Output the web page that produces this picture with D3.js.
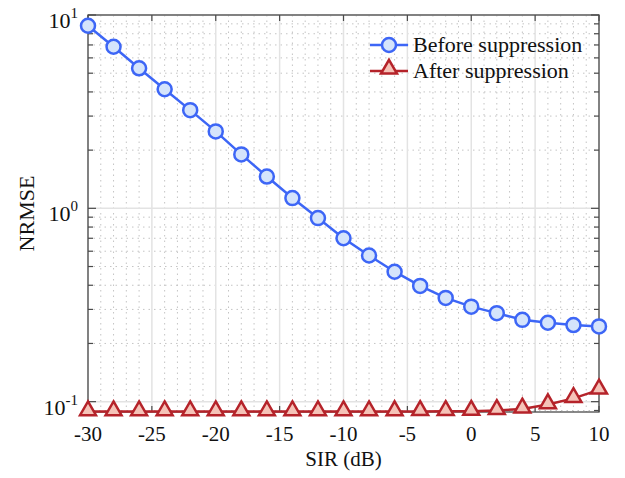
<!DOCTYPE html>
<html>
<head>
<meta charset="utf-8">
<script src="https://cdn.jsdelivr.net/npm/d3@7"></script>
<style>
  body { margin: 0; background: #fff; }
  text { font-family: "Liberation Serif", "Times New Roman", serif; fill: #111; }
</style>
</head>
<body>
<svg id="chart" width="625" height="478"></svg>
<script>
const sir = [-30, -28, -26, -24, -22, -20, -18, -16, -14, -12, -10, -8, -6, -4, -2, 0, 2, 4, 6, 8, 10];
const before = [8.8, 6.85, 5.3, 4.13, 3.22, 2.5, 1.9, 1.46, 1.13, 0.89, 0.70, 0.57, 0.47, 0.397, 0.344, 0.31, 0.287, 0.265, 0.256, 0.249, 0.245];
const after = [0.0888, 0.0888, 0.0888, 0.0888, 0.0888, 0.0888, 0.0888, 0.0888, 0.0888, 0.0888, 0.0888, 0.0888, 0.0889, 0.089, 0.0891, 0.0893, 0.0901, 0.0917, 0.0966, 0.104, 0.115];
const xTicks = [-30, -25, -20, -15, -10, -5, 0, 5, 10];
const yDecades = [0.1, 1, 10];
const yExps = [-1, 0, 1];
const seriesNames = ["Before suppression", "After suppression"];

const svg = d3.select("#chart");
const pLeft = 88, pRight = 599, pTop = 15, pBottom = 412;

const x = d3.scaleLinear().domain([-30, 10]).range([pLeft, pRight]);
const y = d3.scaleLog().domain([0.0884, 10]).range([pBottom, pTop]);

// minor values
const xMinor = d3.range(-30, 11, 1).filter(v => v % 5 !== 0);
const yMinor = [];
[0.01, 0.1, 1].forEach(d => { for (let k = 2; k <= 9; k++) { const v = d * k; if (v >= 0.0884 && v <= 10) yMinor.push(v); } });

const grid = svg.append("g");
grid.selectAll(".xmin").data(xMinor).join("line")
  .attr("x1", d => x(d)).attr("x2", d => x(d)).attr("y1", pTop).attr("y2", pBottom)
  .attr("stroke", "#c4c4c4").attr("stroke-width", 1).attr("stroke-dasharray", "1.5,4");
grid.selectAll(".ymin").data(yMinor).join("line")
  .attr("x1", pLeft).attr("x2", pRight).attr("y1", d => y(d)).attr("y2", d => y(d))
  .attr("stroke", "#c4c4c4").attr("stroke-width", 1).attr("stroke-dasharray", "1.5,4");
grid.selectAll(".xmaj").data(xTicks).join("line")
  .attr("x1", d => x(d)).attr("x2", d => x(d)).attr("y1", pTop).attr("y2", pBottom)
  .attr("stroke", "#e3e3e3").attr("stroke-width", 1.5);
grid.selectAll(".ymaj").data(yDecades).join("line")
  .attr("x1", pLeft).attr("x2", pRight).attr("y1", d => y(d)).attr("y2", d => y(d))
  .attr("stroke", "#e3e3e3").attr("stroke-width", 1.5);

// axes with inside ticks on all sides
const axisColor = "#4a4a4a";
const ticks = svg.append("g").attr("stroke", axisColor).attr("stroke-width", 1.2);
xTicks.forEach(v => {
  ticks.append("line").attr("x1", x(v)).attr("x2", x(v)).attr("y1", pBottom).attr("y2", pBottom - 6);
  ticks.append("line").attr("x1", x(v)).attr("x2", x(v)).attr("y1", pTop).attr("y2", pTop + 6);
});
yDecades.forEach(v => {
  ticks.append("line").attr("x1", pLeft).attr("x2", pLeft + 8).attr("y1", y(v)).attr("y2", y(v));
  ticks.append("line").attr("x1", pRight).attr("x2", pRight - 8).attr("y1", y(v)).attr("y2", y(v));
});
yMinor.forEach(v => {
  ticks.append("line").attr("x1", pLeft).attr("x2", pLeft + 5).attr("y1", y(v)).attr("y2", y(v));
  ticks.append("line").attr("x1", pRight).attr("x2", pRight - 5).attr("y1", y(v)).attr("y2", y(v));
});
svg.append("rect").attr("x", pLeft).attr("y", pTop).attr("width", pRight - pLeft).attr("height", pBottom - pTop)
  .attr("fill", "none").attr("stroke", axisColor).attr("stroke-width", 1.3);

// tick labels
svg.selectAll(".xl").data(xTicks).join("text")
  .attr("x", d => x(d)).attr("y", pBottom + 29)
  .attr("text-anchor", "middle").attr("font-size", 21).text(d => d);

const yl = svg.selectAll(".yl").data(yExps).join("text")
  .attr("x", pLeft - 10).attr("y", (d, i) => y(yDecades[i]) + 13)
  .attr("text-anchor", "end").attr("font-size", 22);
yl.append("tspan").text("10");
yl.append("tspan").attr("dy", -10).attr("font-size", 15).text(d => d);

svg.append("text").attr("x", (pLeft + pRight) / 2).attr("y", 466)
  .attr("text-anchor", "middle").attr("font-size", 21).text("SIR (dB)");
svg.append("text").attr("transform", `translate(34,${(pTop + pBottom) / 2}) rotate(-90)`)
  .attr("text-anchor", "middle").attr("font-size", 22).text("NRMSE");

// series
const blue = "#3d66f6", blueFill = "#d5e4fb";
const red = "#b5232a", redFill = "#f5c3b8";
const line = d3.line().x(d => x(d[0])).y(d => y(d[1]));
const beforeData = sir.map((s, i) => [s, before[i]]);
const afterData = sir.map((s, i) => [s, after[i]]);
const tri = d3.symbol().type(d3.symbolTriangle).size(110);

svg.append("path").datum(beforeData).attr("d", line).attr("fill", "none").attr("stroke", blue).attr("stroke-width", 2.5);
svg.selectAll(".bm").data(beforeData).join("circle")
  .attr("cx", d => x(d[0])).attr("cy", d => y(d[1])).attr("r", 7)
  .attr("fill", blueFill).attr("stroke", blue).attr("stroke-width", 2.5);

svg.append("path").datum(afterData).attr("d", line).attr("fill", "none").attr("stroke", red).attr("stroke-width", 2.5);
svg.selectAll(".am").data(afterData).join("path")
  .attr("d", tri).attr("transform", d => `translate(${x(d[0])},${y(d[1]) - 1})`)
  .attr("fill", redFill).attr("stroke", red).attr("stroke-width", 2.5);

// legend
const legend = svg.append("g");
const rows = [{ name: seriesNames[0], c: blue, f: blueFill, m: "circle" }, { name: seriesNames[1], c: red, f: redFill, m: "tri" }];
rows.forEach((r, i) => {
  const ly = 45 + i * 26;
  legend.append("line").attr("x1", 370).attr("x2", 408).attr("y1", ly).attr("y2", ly).attr("stroke", r.c).attr("stroke-width", 2.5);
  if (r.m === "circle") {
    legend.append("circle").attr("cx", 389).attr("cy", ly).attr("r", 7).attr("fill", r.f).attr("stroke", r.c).attr("stroke-width", 2.5);
  } else {
    legend.append("path").attr("d", tri).attr("transform", `translate(389,${ly - 2})`).attr("fill", r.f).attr("stroke", r.c).attr("stroke-width", 2.5);
  }
  legend.append("text").attr("x", 413).attr("y", ly + 7).attr("font-size", 22).text(r.name);
});
</script>
</body>
</html>
